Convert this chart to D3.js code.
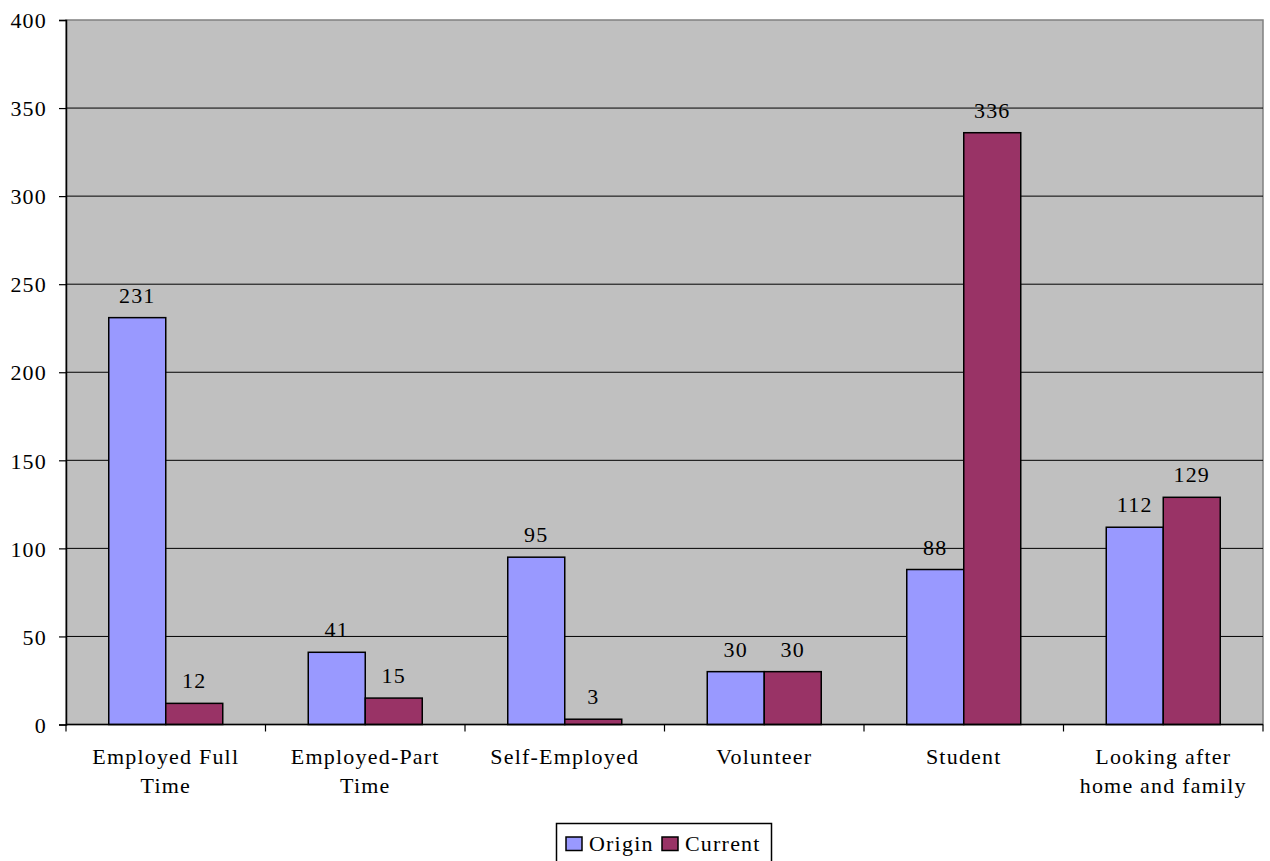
<!DOCTYPE html>
<html><head><meta charset="utf-8">
<script src="https://cdn.jsdelivr.net/npm/d3@7"></script>
</head>
<body style="margin:0;background:#fff">
<svg id="c" width="1270" height="861"></svg>
<script>
const categories = [["Employed Full","Time"],["Employed-Part","Time"],["Self-Employed"],["Volunteer"],["Student"],["Looking after","home and family"]];
const seriesNames = ["Origin","Current"];
const origin = [231,41,95,30,88,112];
const current = [12,15,3,30,336,129];
const yTicks = [0,50,100,150,200,250,300,350,400];
const colors = ["#9999FF","#993366"];

const FONT = "'Liberation Serif', 'Times New Roman', Tinos, serif";
function styleText(sel){
  return sel.attr("font-family",FONT).attr("font-size",22).attr("letter-spacing",1.2).attr("fill","#000");
}

const svg = d3.select("#c");
const L=66, R=1263, T=20, B=724.5;
const catKeys = categories.map((c,i)=>i);
const x = d3.scaleBand().domain(catKeys).range([L,R]).padding(0);
const xs = d3.scaleBand().domain(seriesNames).range([0,x.bandwidth()]).paddingInner(0).paddingOuter(0.75);
const y = d3.scaleLinear().domain([0,400]).range([B,T]);

// plot background
svg.append("rect").attr("x",L).attr("y",T).attr("width",R-L).attr("height",B-T)
  .attr("fill","#C0C0C0").attr("stroke","#808080").attr("stroke-width",1.5);

// gridlines
svg.append("g").selectAll("line").data(yTicks.filter(d=>d>0 && d<400)).join("line")
  .attr("x1",L).attr("x2",R).attr("y1",d=>y(d)).attr("y2",d=>y(d))
  .attr("stroke","#000").attr("stroke-width",1);

// y axis
const yAxis = d3.axisLeft(y).tickValues(yTicks).tickSize(7).tickPadding(12).tickFormat(d3.format("d"));
const gy = svg.append("g").attr("transform",`translate(${L},0)`).call(yAxis);
gy.attr("font-family",FONT).attr("font-size",22);
gy.select(".domain").attr("stroke","#000").attr("stroke-width",1.5);
gy.selectAll(".tick line").attr("stroke","#000").attr("stroke-width",1.2);
styleText(gy.selectAll("text")).attr("dy","0.35em");

// bars
const data = [];
categories.forEach((c,i)=>{
  data.push({cat:i, s:"Origin", v:origin[i], col:colors[0]});
  data.push({cat:i, s:"Current", v:current[i], col:colors[1]});
});
svg.append("g").selectAll("rect").data(data).join("rect")
  .attr("x",d=>x(d.cat)+xs(d.s)).attr("width",xs.bandwidth())
  .attr("y",d=>y(d.v)).attr("height",d=>y(0)-y(d.v))
  .attr("fill",d=>d.col).attr("stroke","#000").attr("stroke-width",1.5);

// value labels
styleText(svg.append("g").selectAll("text").data(data).join("text")
  .attr("x",d=>x(d.cat)+xs(d.s)+xs.bandwidth()/2)
  .attr("y",d=>y(d.v)-15)
  .attr("text-anchor","middle").text(d=>d.v));

// x axis line
svg.append("line").attr("x1",L).attr("x2",R).attr("y1",B).attr("y2",B).attr("stroke","#000").attr("stroke-width",1.5);
// category ticks
const tickXs = catKeys.map(i=>x(i)).concat([R]);
svg.append("g").selectAll("line").data(tickXs).join("line")
  .attr("x1",d=>d).attr("x2",d=>d).attr("y1",B).attr("y2",B+7)
  .attr("stroke","#000").attr("stroke-width",1.2);

// category labels
const cl = styleText(svg.append("g").selectAll("text").data(categories).join("text"))
  .attr("text-anchor","middle")
  .attr("transform",(d,i)=>`translate(${x(i)+x.bandwidth()/2},764)`);
cl.selectAll("tspan").data(d=>d).join("tspan")
  .attr("x",0).attr("dy",(d,j)=>j===0?0:29).text(d=>d);

// legend
const lg = svg.append("g");
lg.append("rect").attr("x",556.5).attr("y",823.5).attr("width",215).attr("height",50)
  .attr("fill","#fff").attr("stroke","#000").attr("stroke-width",1.5);
const legItems = [{n:"Origin",c:colors[0],sx:566,tx:589},{n:"Current",c:colors[1],sx:662,tx:685}];
legItems.forEach(it=>{
  lg.append("rect").attr("x",it.sx).attr("y",837).attr("width",16).attr("height",13.5)
    .attr("fill",it.c).attr("stroke","#000").attr("stroke-width",1.5);
  styleText(lg.append("text").attr("x",it.tx).attr("y",850.5).text(it.n));
});
</script></body></html>
